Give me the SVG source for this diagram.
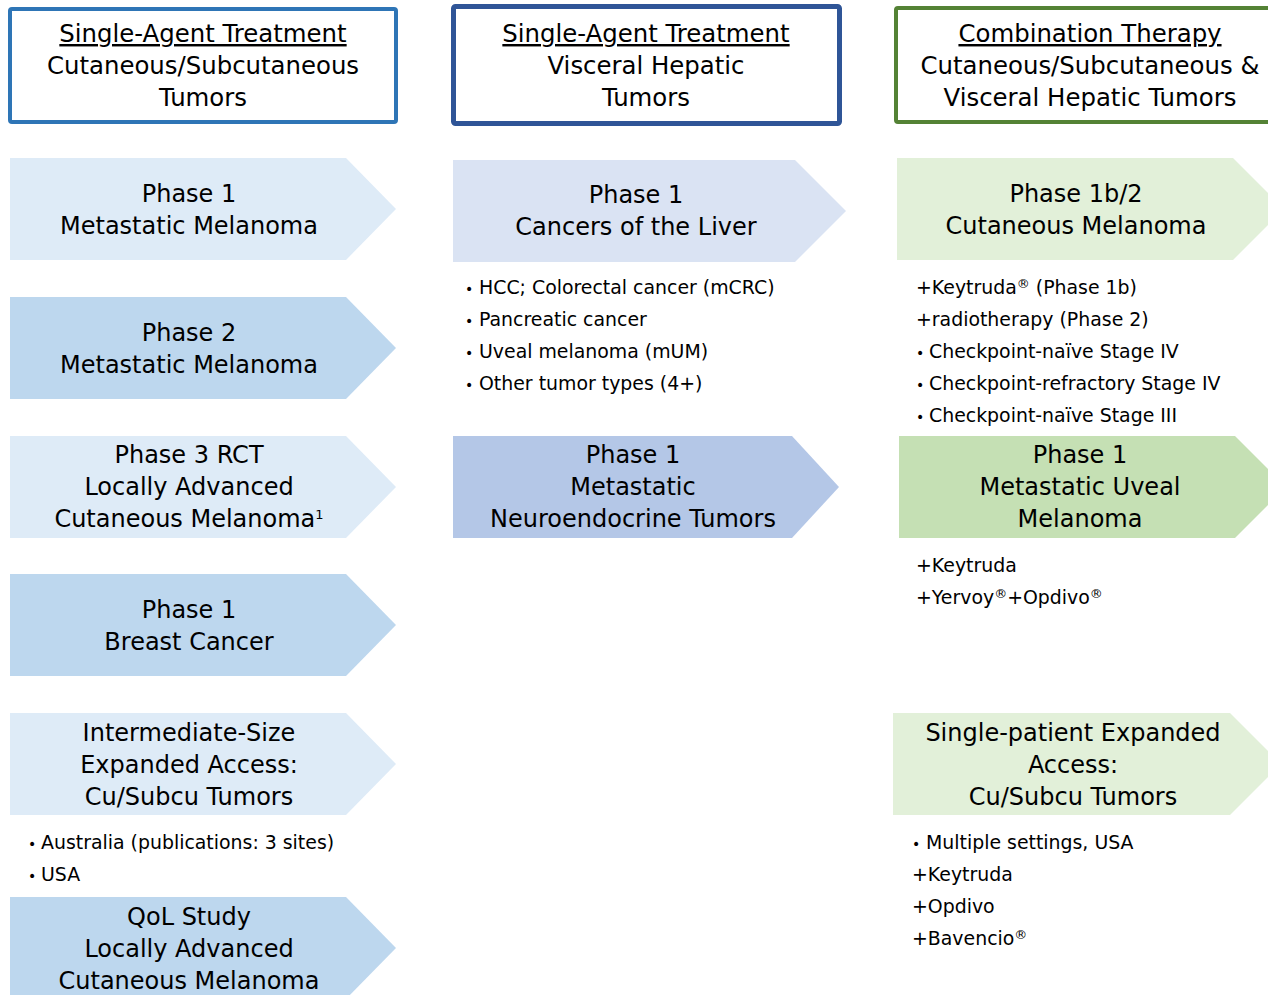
<svg xmlns="http://www.w3.org/2000/svg" width="1268" height="995" viewBox="0 0 1268 995">
<style>
text{font-family:"DejaVu Sans","Verdana",sans-serif;fill:#000}
.h{font-size:24.4px;text-anchor:middle}
.t{font-size:24px;text-anchor:middle}
.b{font-size:18.9px}
.bu{font-size:14px}
.sup{font-size:13px}
.l1{fill:#DEEBF7}.d1{fill:#BDD7EE}
.l2{fill:#DAE3F3}.d2{fill:#B4C7E7}
.l3{fill:#E2F0D9}.d3{fill:#C5E0B4}
</style>
<rect width="1268" height="995" fill="#fff"/>
<g id="header1">
<rect x="10" y="9" width="386" height="113" rx="2" fill="#fff" stroke="#2E75B6" stroke-width="4"/>
<text class="h" x="203" y="42" text-decoration="underline">Single-Agent Treatment</text>
<text class="h" x="203" y="74">Cutaneous/Subcutaneous</text>
<text class="h" x="203" y="106">Tumors</text>
</g>
<g id="header2">
<rect x="453.5" y="6.5" width="386" height="117" rx="2" fill="#fff" stroke="#2F5597" stroke-width="5"/>
<text class="h" x="646" y="42" text-decoration="underline">Single-Agent Treatment</text>
<text class="h" x="646" y="74">Visceral Hepatic</text>
<text class="h" x="646" y="106">Tumors</text>
</g>
<g id="header3">
<rect x="896" y="8" width="400" height="114" rx="2" fill="#fff" stroke="#548235" stroke-width="4"/>
<text class="h" x="1090" y="42" text-decoration="underline">Combination Therapy</text>
<text class="h" x="1090" y="74">Cutaneous/Subcutaneous &amp;</text>
<text class="h" x="1090" y="106">Visceral Hepatic Tumors</text>
</g>
<g id="connectors"></g>
<g id="c1-phase1">
<polygon class="l1" points="10,158 346,158 396,209 346,260 10,260"/>
<text class="t" x="189" y="202">Phase 1</text>
<text class="t" x="189" y="234">Metastatic Melanoma</text>
</g>
<g id="c1-phase2">
<polygon class="d1" points="10,297 346,297 396,348 346,399 10,399"/>
<text class="t" x="189" y="341">Phase 2</text>
<text class="t" x="189" y="373">Metastatic Melanoma</text>
</g>
<g id="c1-phase3">
<polygon class="l1" points="10,436 346,436 396,487 346,538 10,538"/>
<text class="t" x="189" y="463">Phase 3 RCT</text>
<text class="t" x="189" y="495">Locally Advanced</text>
<text class="t" x="189" y="527">Cutaneous Melanoma<tspan class="sup" dy="-8">1</tspan></text>
</g>
<g id="c1-breast">
<polygon class="d1" points="10,574 346,574 396,625 346,676 10,676"/>
<text class="t" x="189" y="618">Phase 1</text>
<text class="t" x="189" y="650">Breast Cancer</text>
</g>
<g id="c1-expanded">
<polygon class="l1" points="10,713 346,713 396,764 346,815 10,815"/>
<text class="t" x="189" y="741">Intermediate-Size</text>
<text class="t" x="189" y="773">Expanded Access:</text>
<text class="t" x="189" y="805">Cu/Subcu Tumors</text>
<text class="b" x="28" y="849"><tspan class="bu">•</tspan><tspan x="41">Australia (publications: 3 sites)</tspan></text>
<text class="b" x="28" y="881"><tspan class="bu">•</tspan><tspan x="41">USA</tspan></text>
</g>
<g id="c1-qol">
<polygon class="d1" points="10,897 346,897 396,948 346,999 10,999"/>
<text class="t" x="189" y="925">QoL Study</text>
<text class="t" x="189" y="957">Locally Advanced</text>
<text class="t" x="189" y="989">Cutaneous Melanoma</text>
</g>
<g id="c2-liver">
<polygon class="l2" points="453,160 795,160 846,211 795,262 453,262"/>
<text class="t" x="636" y="203">Phase 1</text>
<text class="t" x="636" y="235">Cancers of the Liver</text>
<text class="b" x="465" y="294"><tspan class="bu">•</tspan><tspan x="479">HCC; Colorectal cancer (mCRC)</tspan></text>
<text class="b" x="465" y="326"><tspan class="bu">•</tspan><tspan x="479">Pancreatic cancer</tspan></text>
<text class="b" x="465" y="358"><tspan class="bu">•</tspan><tspan x="479">Uveal melanoma (mUM)</tspan></text>
<text class="b" x="465" y="390"><tspan class="bu">•</tspan><tspan x="479">Other tumor types (4+)</tspan></text>
</g>
<g id="c2-net">
<polygon class="d2" points="453,436 792,436 839,487 792,538 453,538"/>
<text class="t" x="633" y="463">Phase 1</text>
<text class="t" x="633" y="495">Metastatic</text>
<text class="t" x="633" y="527">Neuroendocrine Tumors</text>
</g>
<g id="c3-cutaneous">
<polygon class="l3" points="897,158 1233,158 1284,209 1233,260 897,260"/>
<text class="t" x="1076" y="202">Phase 1b/2</text>
<text class="t" x="1076" y="234">Cutaneous Melanoma</text>
<text class="b" x="916" y="294">+Keytruda<tspan class="sup" dy="-6">®</tspan><tspan dy="6"> (Phase 1b)</tspan></text>
<text class="b" x="916" y="326">+radiotherapy (Phase 2)</text>
<text class="b" x="916" y="358"><tspan class="bu">•</tspan><tspan x="929">Checkpoint-naïve Stage IV</tspan></text>
<text class="b" x="916" y="390"><tspan class="bu">•</tspan><tspan x="929">Checkpoint-refractory Stage IV</tspan></text>
<text class="b" x="916" y="422"><tspan class="bu">•</tspan><tspan x="929">Checkpoint-naïve Stage III</tspan></text>
</g>
<g id="c3-uveal">
<polygon class="d3" points="899,436 1235,436 1286,487 1235,538 899,538"/>
<text class="t" x="1080" y="463">Phase 1</text>
<text class="t" x="1080" y="495">Metastatic Uveal</text>
<text class="t" x="1080" y="527">Melanoma</text>
<text class="b" x="916" y="572">+Keytruda</text>
<text class="b" x="916" y="604">+Yervoy<tspan class="sup" dy="-6">®</tspan><tspan dy="6">+Opdivo</tspan><tspan class="sup" dy="-6">®</tspan></text>
</g>
<g id="c3-expanded">
<polygon class="l3" points="893,713 1230,713 1281,764 1230,815 893,815"/>
<text class="t" x="1073" y="741">Single-patient Expanded</text>
<text class="t" x="1073" y="773">Access:</text>
<text class="t" x="1073" y="805">Cu/Subcu Tumors</text>
<text class="b" x="912" y="849"><tspan class="bu">•</tspan><tspan x="926">Multiple settings, USA</tspan></text>
<text class="b" x="912" y="881">+Keytruda</text>
<text class="b" x="912" y="913">+Opdivo</text>
<text class="b" x="912" y="945">+Bavencio<tspan class="sup" dy="-6">®</tspan></text>
</g>
</svg>
